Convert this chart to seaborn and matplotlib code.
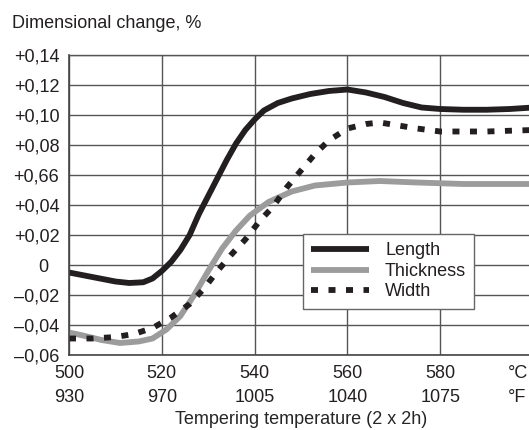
import numpy as np
import pandas as pd
import matplotlib
matplotlib.use('Agg')
import matplotlib.pyplot as plt
import seaborn as sns

# Valores (temperatura em °C, variação em %)
length_temp = [500, 505, 510, 513, 516, 518, 520, 522, 524, 526, 528, 530, 532, 534, 536, 538, 540,
               542, 545, 548, 552, 556, 560, 564, 568, 572, 576, 580, 585, 590, 595, 600]
length_val = [-0.005, -0.008, -0.011, -0.012, -0.0115, -0.009, -0.004, 0.002, 0.010, 0.020, 0.034,
              0.046, 0.058, 0.070, 0.081, 0.090, 0.097, 0.103, 0.108, 0.111, 0.114, 0.116, 0.117,
              0.115, 0.112, 0.108, 0.105, 0.104, 0.1035, 0.1035, 0.104, 0.105]

thick_temp = [500, 503, 507, 511, 515, 518, 521, 524, 527, 530, 533, 536, 539, 543, 548, 553,
              560, 567, 575, 585, 600]
thick_val = [-0.045, -0.047, -0.050, -0.052, -0.051, -0.049, -0.043, -0.034, -0.020, -0.004, 0.011,
             0.023, 0.033, 0.042, 0.049, 0.053, 0.055, 0.056, 0.055, 0.054, 0.054]

width_temp = [500, 505, 510, 514, 518, 522, 526, 529, 532, 535, 538, 541, 544, 547, 550, 553,
              556, 560, 564, 567, 571, 575, 580, 590, 600]
width_val = [-0.049, -0.049, -0.048, -0.046, -0.042, -0.035, -0.026, -0.016, -0.004, 0.007, 0.017,
             0.029, 0.039, 0.052, 0.063, 0.074, 0.083, 0.091, 0.094, 0.095, 0.093, 0.091, 0.089,
             0.089, 0.090]

x_ticks = [500, 520, 540, 560, 580]
x_labels = ['500\n930', '520\n970', '540\n1005', '560\n1040', '580\n1075']
y_ticks = [-0.06, -0.04, -0.02, 0.0, 0.02, 0.04, 0.06, 0.08, 0.10, 0.12, 0.14]
y_labels = ['–0,06', '–0,04', '–0,02', '0  ', '+0,02', '+0,04', '+0,66', '+0,08', '+0,10',
            '+0,12', '+0,14']

sns.set_style('white')
plt.rcParams['font.family'] = ['Liberation Sans', 'DejaVu Sans']
plt.rcParams['font.size'] = 13
plt.rcParams['text.color'] = '#231f20'

fig = plt.figure(figsize=(5.29, 4.30), dpi=100)
ax = fig.add_axes([69 / 529, 1 - 355 / 430, 464 / 529, 300 / 430])

sns.lineplot(x=length_temp, y=length_val, ax=ax, color='#231f20', lw=4.2, label='Length',
             solid_capstyle='butt', solid_joinstyle='round')
sns.lineplot(x=thick_temp, y=thick_val, ax=ax, color='#9c9c9c', lw=4.2, label='Thickness',
             solid_capstyle='butt', solid_joinstyle='round')
sns.lineplot(x=width_temp, y=width_val, ax=ax, color='#231f20', lw=4.2, label='Width',
             linestyle=(0, (1.2, 1.8)), dash_capstyle='butt')

ax.set_xlim(500, 600)
ax.set_ylim(-0.06, 0.14)
ax.set_xticks(x_ticks)
ax.set_xticklabels(x_labels)
ax.set_xticks([594.6], minor=True)
ax.set_xticklabels(['°C\n°F'], minor=True)
for t in ax.get_xticklabels(minor=True):
    t.set_ha('left')
for t in ax.get_xticklabels() + ax.get_xticklabels(minor=True):
    t.set_linespacing(1.55)
ax.set_yticks(y_ticks)
ax.set_yticklabels(y_labels)
ax.tick_params(axis='both', which='both', length=0, labelsize=13, colors='#231f20')
ax.tick_params(axis='x', which='both', pad=7)
ax.tick_params(axis='y', pad=7)
ax.grid(True, which='major', color='#555555', lw=1.0)
ax.set_axisbelow(True)
for s in ['left', 'bottom']:
    ax.spines[s].set_color('#444444')
    ax.spines[s].set_linewidth(1.2)
ax.spines['top'].set_color('#555555')
ax.spines['top'].set_linewidth(1.0)
ax.spines['right'].set_visible(False)

ax.set_xlabel('Tempering temperature (2 x 2h)', fontsize=13, labelpad=4)
ax.set_ylabel('')
fig.text(12 / 529, 1 - 15 / 430, 'Dimensional change, %', ha='left', va='top', fontsize=13)

leg = ax.legend(loc='upper left', bbox_to_anchor=(0.504, 0.403), borderaxespad=0,
                fancybox=False, framealpha=1, edgecolor='#666666', handlelength=3.2,
                handletextpad=0.9, labelspacing=0.2, borderpad=0.45, fontsize=13)
leg.get_frame().set_linewidth(1.0)

fig.savefig('out.png', dpi=100)
